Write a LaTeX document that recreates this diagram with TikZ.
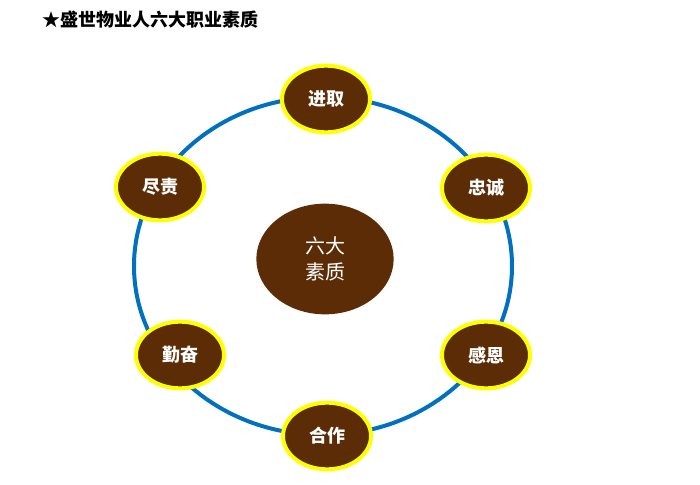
\documentclass[tikz,border=0pt]{standalone}
\usepackage{fontspec}
\usepackage{xcolor}
\usepackage{tikz}
\usetikzlibrary{shapes.geometric}
\setmainfont{Noto Sans CJK SC}
\definecolor{ringblue}{HTML}{0070C0}
\definecolor{quality}{HTML}{5B2C06}
\definecolor{rim}{HTML}{FFFF00}
\tikzset{
  trait/.style={ellipse,fill=quality,draw=rim,line width=3pt,minimum width=66pt,minimum height=50pt,inner sep=0pt,text=white,font=\bfseries\fontsize{13.5}{16}\selectfont},
  core/.style={ellipse,fill=quality,minimum width=103pt,minimum height=83pt,inner sep=0pt,text=white,align=center,font=\fontsize{15}{20}\selectfont}
}
\begin{document}
\begin{tikzpicture}[x=0.75pt,y=-0.75pt]
\useasboundingbox (0,0) rectangle (700,485);
% title
\node[anchor=west,inner sep=0pt,font=\bfseries\fontsize{13.5}{16}\selectfont] (title) at (42,20) {★盛世物业人六大职业素质};
% ring
\draw[ringblue,line width=3pt] (323,266) ellipse[x radius=189, y radius=169];
% six qualities
\node[trait] (jinqu) at (326,99) {进取};
\node[trait] (zhongcheng) at (486,188) {忠诚};
\node[trait] (ganen) at (486,355) {感恩};
\node[trait] (hezuo) at (327,436) {合作};
\node[trait] (qinfen) at (180,355) {勤奋};
\node[trait] (jinze) at (160,187) {尽责};
% centre
\node[core] (centre) at (325,259) {六大\\素质};
\end{tikzpicture}
\end{document}
